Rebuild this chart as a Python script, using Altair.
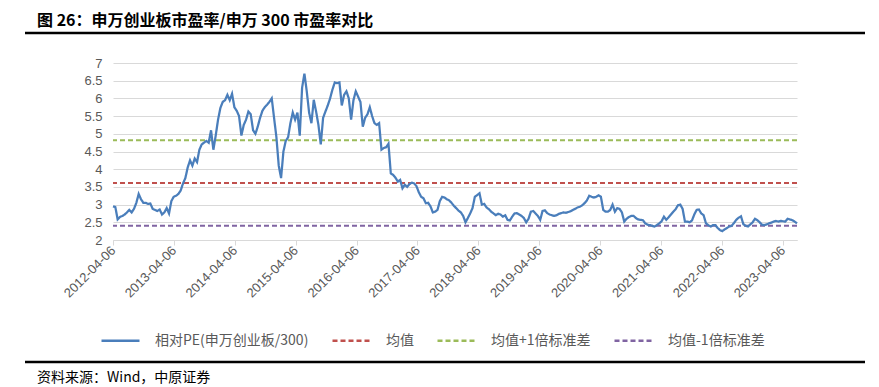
import altair as alt
import pandas as pd

title_text = "图 26：申万创业板市盈率/申万 300 市盈率对比"
source_text = "资料来源：Wind，中原证券"
series_names = ["相对PE(申万创业板/300)", "均值", "均值+1倍标准差", "均值-1倍标准差"]
series_colors = ["#4A7EBB", "#C0504D", "#9BBB59", "#8064A2"]
level_values = [3.61, 4.82, 2.40]
y_ticks = [2, 2.5, 3, 3.5, 4, 4.5, 5, 5.5, 6, 6.5, 7]
x_tick_years = list(range(2012, 2024))
start_date = "2012-04-06"

# biweekly readings of the relative PE ratio
ratio_values = [
    2.95, 2.93, 2.58, 2.65, 2.68, 2.72, 2.78, 2.85, 2.78, 2.88, 3.05, 3.3, 3.15,
    3.05, 3.05, 3.02, 3.03, 2.88, 2.85, 2.82, 2.86, 2.72, 2.78, 2.9, 2.75, 3.1,
    3.22, 3.25, 3.3, 3.4, 3.6, 3.75, 4.05, 4.25, 4.1, 4.3, 4.2, 4.55, 4.7,
    4.75, 4.8, 4.75, 5.1, 4.55, 4.95, 5.4, 5.73, 5.9, 5.95, 6.1, 5.95, 6.13,
    5.75, 5.65, 5.5, 4.95, 5.25, 5.4, 5.63, 5.55, 5.1, 5.0, 5.2, 5.45, 5.65,
    5.75, 5.82, 5.9, 6.0, 5.45, 4.9, 4.1, 3.75, 4.5, 4.8, 4.9, 5.3, 5.6,
    5.4, 5.6, 4.95, 6.3, 6.7, 6.2, 5.6,
    5.3, 5.96, 5.63, 5.25, 4.7, 5.45, 5.63, 5.8, 6.0, 6.25, 6.45, 6.43, 6.45,
    5.8, 6.1, 6.2, 6.0, 5.4, 5.95, 6.2, 6.05, 5.9, 5.2, 5.45, 5.55, 5.75,
    5.5, 5.3, 5.25, 5.3, 4.55, 4.6, 4.62, 4.72, 3.88, 3.84, 3.76, 3.65, 3.7,
    3.46, 3.56, 3.5, 3.58, 3.62, 3.6, 3.52, 3.35, 3.22, 3.18, 3.04, 3.05, 2.95,
    2.78, 2.8, 2.85, 3.1, 3.22, 3.2, 3.15, 3.12, 3.05, 2.97, 2.9, 2.83, 2.78,
    2.68, 2.5, 2.62, 2.75, 2.9, 3.22, 3.27, 3.32, 3.0, 3.02, 2.92, 2.87, 2.8,
    2.75, 2.7, 2.74, 2.72, 2.66, 2.7, 2.57, 2.55, 2.66, 2.75, 2.76, 2.72, 2.68,
    2.62, 2.5, 2.6, 2.8, 2.82, 2.75, 2.68, 2.57, 2.82, 2.84, 2.76, 2.72,
    2.7, 2.68, 2.7, 2.74, 2.76, 2.78, 2.77, 2.79, 2.81, 2.85, 2.88, 2.92, 2.94,
    2.98, 3.04, 3.12, 3.25, 3.22, 3.2, 3.22, 3.26, 3.22, 2.85, 2.8, 2.8, 2.85,
    3.0, 2.8, 2.9, 2.88, 2.78, 2.52, 2.6, 2.65, 2.68, 2.68, 2.62, 2.58, 2.57,
    2.56, 2.47, 2.43, 2.42, 2.4, 2.38, 2.42, 2.47, 2.53, 2.66, 2.57, 2.64, 2.72,
    2.8, 2.87, 2.98, 3.0, 2.88, 2.52, 2.52, 2.5, 2.55, 2.72, 2.85, 2.86, 2.75,
    2.7, 2.47, 2.42, 2.38, 2.42, 2.42, 2.34, 2.28, 2.25, 2.3, 2.34, 2.38, 2.4,
    2.48, 2.57, 2.63, 2.67, 2.45, 2.4, 2.38, 2.44, 2.5, 2.6, 2.56, 2.5, 2.43,
    2.42, 2.44, 2.47, 2.49, 2.52, 2.54, 2.52, 2.54, 2.53, 2.52, 2.6, 2.58, 2.56,
    2.52, 2.47,
]

dates = pd.date_range(start_date, periods=len(ratio_values), freq="14D")
df = pd.DataFrame({
    "date": dates.strftime("%Y-%m-%d"),
    "value": ratio_values,
    "series": series_names[0],
})
levels = pd.DataFrame({"series": series_names[1:], "value": level_values})

first, last = dates[0], dates[-1]
x_domain = [
    alt.DateTime(year=first.year, month=first.month, date=first.day, utc=True),
    alt.DateTime(year=last.year, month=last.month, date=last.day, utc=True),
]
x_values = [alt.DateTime(year=y, month=4, date=6, utc=True) for y in x_tick_years]

label_font = "Liberation Sans"
cjk_font = "Noto Sans CJK SC"
grey = "#595959"

color_scale = alt.Scale(domain=series_names, range=series_colors)
dash_scale = alt.Scale(domain=series_names, range=[[1, 0], [5, 3], [5, 3], [5, 3]])
legend = alt.Legend(
    title=None, orient="none", legendX=-13, legendY=257, direction="horizontal",
    symbolType="stroke", symbolSize=1444, symbolStrokeWidth=2.5,
    labelFont=cjk_font, labelFontSize=14, labelColor=grey, labelOffset=14,
    columnPadding=18, padding=0, labelLimit=400,
)

y_scale = alt.Scale(domain=[2, 7], nice=False, zero=False)
y_axis = alt.Axis(
    values=y_ticks, title=None, domain=False, ticks=False, labelPadding=11,
    labelFont=label_font, labelFontSize=13, labelColor=grey,
    gridColor="#D9D9D9", gridWidth=1, labelExpr="datum.value + ''",
)

line = alt.Chart(df).mark_line(strokeWidth=2.25).encode(
    x=alt.X(
        "date:T",
        scale=alt.Scale(type="utc", domain=x_domain),
        axis=alt.Axis(
            values=x_values, format="%Y-%m-%d", title=None, grid=False,
            labelAngle=315, labelAlign="right", labelBaseline="middle",
            labelPadding=3, tickSize=5, tickColor="#D9D9D9",
            domainColor="#D9D9D9", labelFont=label_font, labelFontSize=13,
            labelColor=grey, labelOverlap=False, labelFlush=False,
        ),
    ),
    y=alt.Y("value:Q", scale=y_scale, axis=y_axis),
    color=alt.Color("series:N", scale=color_scale, legend=legend),
    strokeDash=alt.StrokeDash("series:N", scale=dash_scale, legend=legend),
)

rules = alt.Chart(levels).mark_rule(strokeWidth=2).encode(
    y=alt.Y("value:Q", scale=y_scale, axis=y_axis),
    color=alt.Color("series:N", scale=color_scale, legend=legend),
    strokeDash=alt.StrokeDash("series:N", scale=dash_scale, legend=legend),
)

title_mark = alt.Chart(pd.DataFrame({"t": [title_text]})).mark_text(
    align="left", baseline="middle", font=cjk_font, fontSize=16,
    fontWeight="bold", color="black",
).encode(text="t:N", x=alt.value(-76), y=alt.value(-42))

title_rule = alt.Chart(pd.DataFrame({"a": [0]})).mark_rule(
    color="black", strokeWidth=2.5
).encode(x=alt.value(-88), x2=alt.value(752), y=alt.value(-30))

source_rule = alt.Chart(pd.DataFrame({"a": [0]})).mark_rule(
    color="black", strokeWidth=2.5
).encode(x=alt.value(-88), x2=alt.value(752), y=alt.value(299))

source_mark = alt.Chart(pd.DataFrame({"t": [source_text]})).mark_text(
    align="left", baseline="middle", font=cjk_font, fontSize=14, color="black",
).encode(text="t:N", x=alt.value(-76), y=alt.value(315))

chart = alt.layer(
    rules, line, title_mark, title_rule, source_rule, source_mark
).properties(
    width=684, height=177,
    padding={"left": 105, "top": 55, "right": 74, "bottom": 147},
    autosize=alt.AutoSizeParams(type="none"),
).configure_view(stroke=None)

chart.save("out.html", embed_options={"renderer": "svg", "actions": False})
